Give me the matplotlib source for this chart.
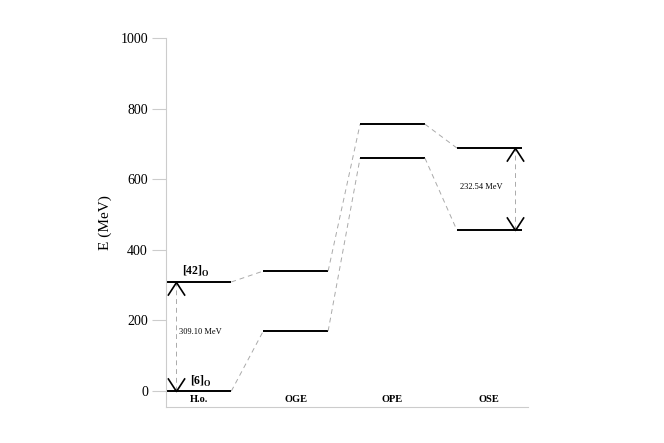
import numpy as np
import matplotlib
matplotlib.use('Agg')
from matplotlib import pyplot as plt
from matplotlib.path import Path

# level energies (MeV) per model
models = ['H.o.', 'OGE', 'OPE', 'OSE']
upper = [309.10, 340.0, 756.0, 688.5]
lower = [0.0, 170.0, 660.0, 455.96]
yticks = [0, 200, 400, 600, 800, 1000]

plt.rcParams['font.family'] = ['Liberation Serif', 'DejaVu Serif']
plt.rcParams['mathtext.fontset'] = 'custom'
plt.rcParams['mathtext.rm'] = 'Liberation Serif'
plt.rcParams['mathtext.bf'] = 'Liberation Serif:bold'

fig = plt.figure(figsize=(6.64, 4.43), dpi=100)
ax = fig.add_axes([166 / 664, 1 - 407 / 443, 362 / 664, 369 / 443])
ax.set_xlim(-0.34, 3.40)
ax.set_ylim(-45, 1000)

hw = 0.335
for i in range(len(models)):
    ax.plot([i - hw, i + hw], [upper[i], upper[i]], color='black', lw=1.4, solid_capstyle='butt')
    ax.plot([i - hw, i + hw], [lower[i], lower[i]], color='black', lw=1.4, solid_capstyle='butt')
    ax.text(i, -12, models[i], ha='center', va='top', fontsize=7.5, fontweight='bold')
    if i < len(models) - 1:
        ax.plot([i + hw, i + 1 - hw], [upper[i], upper[i + 1]], color='#aaaaaa', lw=0.7, ls=(0, (5, 4)))
        ax.plot([i + hw, i + 1 - hw], [lower[i], lower[i + 1]], color='#aaaaaa', lw=0.7, ls=(0, (5, 4)))

# open chevron heads, tip at the level
up_chev = Path([(-0.65, -1), (0, 0), (0.65, -1)], [Path.MOVETO, Path.LINETO, Path.LINETO])
down_chev = Path([(-0.65, 1), (0, 0), (0.65, 1)], [Path.MOVETO, Path.LINETO, Path.LINETO])

for xa, lo, hi, xt, yt in [(-0.235, lower[0], upper[0], -0.21, 167),
                           (3.27, lower[3], upper[3], 2.70, 578)]:
    ax.plot([xa, xa], [lo, hi], color='#aaaaaa', lw=0.7, ls=(0, (5, 4)))
    ax.plot(xa, hi, marker=up_chev, ms=19, mfc='none', mec='black', mew=1.2)
    ax.plot(xa, lo, marker=down_chev, ms=19, mfc='none', mec='black', mew=1.2)
    ax.text(xt, yt, '%.2f MeV' % (hi - lo), ha='left', va='center', fontsize=6)

ax.text(-0.17, upper[0] + 7, r'$\mathbf{[42]}_\mathbf{O}$', ha='left', va='bottom', fontsize=8.5)
ax.text(-0.09, lower[0] + 7, r'$\mathbf{[6]}_\mathbf{O}$', ha='left', va='bottom', fontsize=8.5)

ax.set_yticks(yticks)
ax.set_yticklabels([str(v) for v in yticks], fontsize=10)
ax.set_xticks([])
ax.tick_params(axis='y', direction='out', length=10, color='#cccccc', width=0.8, pad=3)
for s in ['top', 'right']:
    ax.spines[s].set_visible(False)
ax.spines['left'].set_color('#cccccc')
ax.spines['bottom'].set_color('#cccccc')
ax.spines['left'].set_bounds(-45, 1000)
ax.set_ylabel('E (MeV)', fontsize=11, labelpad=6)

fig.savefig('out.png', dpi=100)
